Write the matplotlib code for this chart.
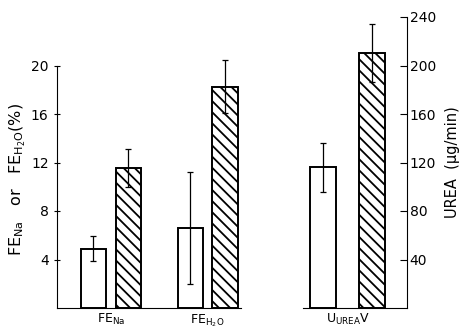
import matplotlib
matplotlib.use("Agg")
from matplotlib import pyplot as plt

# left panel: fractional excretion (%)
fe_labels = ["FE$_{\\mathrm{Na}}$", "FE$_{\\mathrm{H_2O}}$"]
fe_control = [4.9, 6.6]
fe_control_err = [1.0, 4.6]
fe_treated = [11.55, 18.25]
fe_treated_err = [1.55, 2.2]

# right panel: urea excretion (ug/min)
urea_label = ["U$_{\\mathrm{UREA}}$V"]
urea_control = [116]
urea_control_err = [20]
urea_treated = [210]
urea_treated_err = [24]

plt.rcParams['font.family'] = ['DejaVu Sans']
plt.rcParams['hatch.linewidth'] = 1.3
plt.rcParams['mathtext.default'] = 'regular'

fig = plt.figure(figsize=(4.64, 3.31), dpi=100)
ax1 = fig.add_axes([57 / 464, 23 / 331, 184 / 464, 291 / 331])
ax2 = fig.add_axes([303 / 464, 23 / 331, 104 / 464, 291 / 331])

width = 0.26
off = 0.18
bar_kw = dict(width=width, edgecolor='black', linewidth=1.4)
err_kw = dict(elinewidth=0.9, capsize=2.3, capthick=0.9, ecolor='black')

x = [0, 1]
ax1.bar([i - off for i in x], fe_control, color='white',
        yerr=fe_control_err, error_kw=err_kw, **bar_kw)
ax1.bar([i + off for i in x], fe_treated, color='white', hatch='\\\\\\',
        yerr=fe_treated_err, error_kw=err_kw, **bar_kw)
ax1.set_xlim(-0.556, 1.346)
ax1.set_ylim(0, 24)
ax1.set_xticks(x)
ax1.set_xticklabels(fe_labels, fontsize=9)
ax1.set_yticks([4, 8, 12, 16, 20])
ax1.spines['left'].set_bounds(0, 20)
ax1.spines['top'].set_visible(False)
ax1.spines['right'].set_visible(False)
ax1.tick_params(axis='y', direction='inout', length=5, labelsize=10)
ax1.tick_params(axis='x', length=0, pad=3)
ax1.set_ylabel("FE$_{Na}$   or   FE$_{H_2O}$(%)", fontsize=11.5)
ax1.yaxis.set_label_coords(-0.16, 0.44)

off2 = 0.253
width2 = 0.27
bar_kw2 = dict(width=width2, edgecolor='black', linewidth=1.4)
ax2.bar([-off2], urea_control, color='white',
        yerr=urea_control_err, error_kw=err_kw, **bar_kw2)
ax2.bar([off2], urea_treated, color='white', hatch='\\\\\\',
        yerr=urea_treated_err, error_kw=err_kw, **bar_kw2)
ax2.set_xlim(-0.46, 0.615)
ax2.set_ylim(0, 240)
ax2.set_xticks([0])
ax2.set_xticklabels(urea_label, fontsize=9)
ax2.set_yticks([40, 80, 120, 160, 200, 240])
ax2.yaxis.tick_right()
ax2.yaxis.set_label_position('right')
ax2.spines['left'].set_visible(False)
ax2.spines['top'].set_visible(False)
ax2.tick_params(axis='y', direction='in', length=5, labelsize=10, pad=2)
ax2.tick_params(axis='x', length=0, pad=3)
ax2.set_ylabel("UREA  (\u03bcg/min)", fontsize=10.5, labelpad=6)

plt.savefig("out.png", dpi=100)
